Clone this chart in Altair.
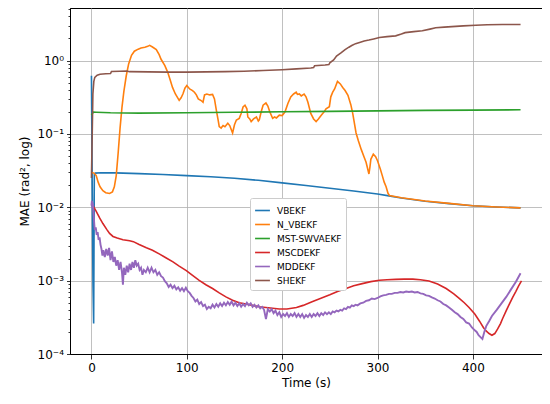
import altair as alt
import pandas as pd

SERIES = ["VBEKF", "N_VBEKF", "MST-SWVAEKF", "MSCDEKF", "MDDEKF", "SHEKF"]
COLORS = ["#1f77b4", "#ff7f0e", "#2ca02c", "#d62728", "#9467bd", "#8c564b"]

VBEKF_T = [0, 0.8, 1.6, 2.3, 3.0, 4, 10, 25, 50, 75, 100, 125, 150, 175, 200, 225, 250, 275, 300, 312, 325, 350, 375, 400, 425, 450]
VBEKF_V = [0.62, 0.02, 0.0009, 0.00026, 0.028, 0.0292, 0.0295, 0.0294, 0.0287, 0.0279, 0.027, 0.026, 0.0249, 0.0233, 0.0215, 0.0198, 0.0182, 0.0167, 0.0152, 0.0143, 0.0134, 0.0121, 0.0112, 0.0105, 0.0101, 0.0098]

N_VBEKF_T = [0, 3, 5, 7, 9, 12, 15, 19, 22, 24, 26, 28, 30, 32, 34, 36.5, 39, 42, 45, 49, 52, 56, 59, 61, 64, 68, 71, 73, 77, 80, 83, 85, 88, 92, 94, 96, 98, 100, 103, 106, 108, 110, 112, 115, 117, 118.6, 121, 124, 127, 129, 131, 133, 134, 136, 138, 140, 143, 145, 148, 150, 152, 155, 157, 159, 161, 163, 164, 166, 167.5, 170, 173, 175, 176, 178, 180, 183, 185, 187, 190, 192, 194, 197, 200, 203, 206, 209, 212, 214.7, 216, 218, 220, 223, 225, 227, 230, 233, 235.6, 238, 241, 244, 246, 249.5, 251, 253, 255, 258, 261, 263.5, 266, 269, 272, 274, 277.5, 280, 283, 286, 288, 291, 292, 293, 295.6, 298, 300, 303, 305, 307, 309, 311, 312.5, 325, 350, 375, 400, 425, 450]
N_VBEKF_V = [0.030, 0.029, 0.027, 0.022, 0.019, 0.0168, 0.0158, 0.0154, 0.0162, 0.019, 0.027, 0.055, 0.12, 0.23, 0.38, 0.62, 0.9, 1.18, 1.34, 1.43, 1.48, 1.52, 1.56, 1.61, 1.53, 1.41, 1.2, 1.04, 0.85, 0.69, 0.52, 0.43, 0.35, 0.287, 0.31, 0.353, 0.42, 0.456, 0.41, 0.39, 0.37, 0.34, 0.30, 0.285, 0.27, 0.34, 0.35, 0.34, 0.345, 0.3, 0.21, 0.15, 0.126, 0.12, 0.13, 0.125, 0.14, 0.13, 0.103, 0.133, 0.155, 0.163, 0.19, 0.233, 0.246, 0.22, 0.17, 0.16, 0.147, 0.16, 0.17, 0.15, 0.155, 0.2, 0.246, 0.264, 0.24, 0.2, 0.163, 0.17, 0.165, 0.18, 0.178, 0.2, 0.26, 0.32, 0.35, 0.37, 0.345, 0.35, 0.33, 0.35, 0.32, 0.27, 0.19, 0.16, 0.147, 0.16, 0.18, 0.2, 0.22, 0.235, 0.32, 0.37, 0.41, 0.52, 0.48, 0.43, 0.39, 0.335, 0.25, 0.19, 0.103, 0.08, 0.061, 0.048, 0.041, 0.0284, 0.035, 0.045, 0.053, 0.049, 0.043, 0.033, 0.027, 0.022, 0.019, 0.0155, 0.0145, 0.0135, 0.0122, 0.0113, 0.0105, 0.0101, 0.0098]

MST_T = [0, 1, 2, 5, 20, 50, 100, 150, 200, 250, 300, 350, 400, 450]
MST_V = [0.18, 0.19, 0.198, 0.197, 0.194, 0.192, 0.194, 0.197, 0.2, 0.203, 0.206, 0.209, 0.211, 0.213]

MSCDEKF_T = [0, 2, 5, 8.7, 12, 16, 19, 22.6, 27, 33, 40, 44, 50, 57.6, 64, 71.5, 78, 85.5, 92, 99.5, 106, 113, 120, 127, 134, 141, 148, 155, 162, 169, 176, 183, 190, 197, 205, 215, 222, 232, 240, 250, 258, 267, 275, 284, 293, 302, 310, 319, 328, 337, 345, 354, 363, 372, 380, 386, 391, 396, 402, 407, 411, 413.6, 417, 420, 423, 426, 429, 431, 435, 438, 442, 445, 448, 451]
MSCDEKF_V = [0.011, 0.0103, 0.0088, 0.0071, 0.006, 0.005, 0.0044, 0.004, 0.0038, 0.0036, 0.0035, 0.0034, 0.0031, 0.0028, 0.0026, 0.0023, 0.00205, 0.0018, 0.00158, 0.00137, 0.00118, 0.00101, 0.00088, 0.00078, 0.00068, 0.0006, 0.00054, 0.0005, 0.00048, 0.00046, 0.00044, 0.00043, 0.00042, 0.00041, 0.00041, 0.00043, 0.00046, 0.00052, 0.00057, 0.00064, 0.00071, 0.00078, 0.00085, 0.00091, 0.00097, 0.00101, 0.00103, 0.00104, 0.00105, 0.00105, 0.00103, 0.00099, 0.0009, 0.00078, 0.00066, 0.00057, 0.0005, 0.00043, 0.00035, 0.00028, 0.00023, 0.000208, 0.00019, 0.00018, 0.00019, 0.00022, 0.00026, 0.0003, 0.00039, 0.00047, 0.0006, 0.00071, 0.00085, 0.00099]

MDDEKF_T = [0, 0.5, 1, 1.5, 2, 2.5, 3, 3.5, 4.5, 5.5, 6.5, 7.5, 8.5, 9.5, 10.5, 11.5, 12.5, 14, 15.5, 17, 18.5, 20, 21.5, 23, 24.5, 26, 27.5, 29, 30.5, 32, 33, 34, 35.5, 37, 38.5, 40, 41.5, 43, 44.5, 46, 47.5, 49, 50.5, 52, 53.5, 55, 57, 59, 61, 63, 65, 67, 69, 71, 73, 75, 77, 79, 81, 83, 85, 87, 89, 91, 93, 95, 97, 99, 101, 103, 105, 107, 109, 111, 113, 115, 117, 119, 121, 123, 125, 127, 129, 131, 133, 135, 137, 139, 141, 143, 145, 147, 149, 151, 153, 155, 157, 159, 161, 163, 165, 167, 169, 171, 173, 175, 177, 179, 181, 183, 185, 187, 189, 191, 193, 195, 197, 199, 201, 203, 205, 207, 209, 211, 213, 215, 217, 219, 221, 223, 225, 227, 229, 231, 233, 235, 237, 239, 241, 243, 245, 247, 249, 251, 253, 255, 257, 259, 261, 263, 265, 267, 269, 271, 273, 275, 277, 279, 282, 285, 288, 291, 294, 297, 300, 303, 306, 309, 312, 315, 318, 321, 324, 327, 330, 333, 336, 339, 342, 345, 348, 351, 354, 357, 360, 363, 366, 369, 372, 375, 378, 381, 384, 387, 390, 393, 396, 399, 402, 404, 406, 408, 410, 412, 414, 417, 420, 425, 430, 435, 440, 445, 450]
MDDEKF_V = [0.0105, 0.0122, 0.0098, 0.0115, 0.0085, 0.0072, 0.0058, 0.0049, 0.0053, 0.0042, 0.0046, 0.0036, 0.0039, 0.0031, 0.0027, 0.0022, 0.0026, 0.0021, 0.0027, 0.0022, 0.0028, 0.0019, 0.0025, 0.0018, 0.0021, 0.0016, 0.0019, 0.0014, 0.0018, 0.0013, 0.00088, 0.0015, 0.0012, 0.0016, 0.0013, 0.0017, 0.0014, 0.0018, 0.0015, 0.0019, 0.0016, 0.0017, 0.0014, 0.0015, 0.0012, 0.0014, 0.0013, 0.0015, 0.0013, 0.0015, 0.0013, 0.0014, 0.0012, 0.0013, 0.00115, 0.0011, 0.00098, 0.00092, 0.00082, 0.00088, 0.00079, 0.00085, 0.00076, 0.00081, 0.00073, 0.00079, 0.00072, 0.0008, 0.00072, 0.00068, 0.00062, 0.00058, 0.00052, 0.00055, 0.00048, 0.00051, 0.00045, 0.00047, 0.00041, 0.00044, 0.00042, 0.00047, 0.00043, 0.00048, 0.00044, 0.00049, 0.00045, 0.0005, 0.00046, 0.00051, 0.00047, 0.00052, 0.00046, 0.0005, 0.00045, 0.00049, 0.00044, 0.00048, 0.00045, 0.0005, 0.00046, 0.00049, 0.00044, 0.00047, 0.00043, 0.00046, 0.00042, 0.00044, 0.0004, 0.0003, 0.00041, 0.00038, 0.00041, 0.00036, 0.00039, 0.00034, 0.00037, 0.00032, 0.00035, 0.00033, 0.00036, 0.00032, 0.00035, 0.00033, 0.00036, 0.00032, 0.00035, 0.00032, 0.00035, 0.00031, 0.00034, 0.00032, 0.00035, 0.00032, 0.00035, 0.00033, 0.00036, 0.00033, 0.00036, 0.00034, 0.00037, 0.00035, 0.00037, 0.00035, 0.00038, 0.00037, 0.00039, 0.00038, 0.0004, 0.00039, 0.00042, 0.00041, 0.00044, 0.00043, 0.00046, 0.00045, 0.00047, 0.00046, 0.00049, 0.0005, 0.00053, 0.00054, 0.00057, 0.00056, 0.00058, 0.00061, 0.00063, 0.00064, 0.00066, 0.00066, 0.00068, 0.00068, 0.0007, 0.00069, 0.00071, 0.0007, 0.00071, 0.00069, 0.0007, 0.00067, 0.00066, 0.00063, 0.00062, 0.00059, 0.00057, 0.00054, 0.00052, 0.00048, 0.00046, 0.00043, 0.0004, 0.00037, 0.00035, 0.00032, 0.0003, 0.00027, 0.00026, 0.00023, 0.00021, 0.0002, 0.00018, 0.00017, 0.00016, 0.0002, 0.00024, 0.00028, 0.00033, 0.0004, 0.00049, 0.0006, 0.00076, 0.00096, 0.00126]

SHEKF_T = [0, 0.8, 1.5, 2.5, 3.5, 6, 9, 15, 20, 21, 30, 37, 40, 60, 80, 100, 120, 140, 160, 180, 200, 215, 230, 233, 234, 245, 249, 250, 254, 257, 262, 266, 270, 273, 277, 282, 286, 291, 296, 302, 310, 319, 325, 329, 338, 347, 355, 361, 370, 378, 390, 403, 415, 431, 450]
SHEKF_V = [0.025, 0.1, 0.35, 0.52, 0.59, 0.63, 0.65, 0.66, 0.665, 0.71, 0.715, 0.72, 0.705, 0.70, 0.695, 0.695, 0.70, 0.705, 0.715, 0.73, 0.75, 0.77, 0.79, 0.80, 0.85, 0.87, 0.88, 0.93, 1.02, 1.15, 1.28, 1.41, 1.52, 1.6, 1.7, 1.78, 1.85, 1.9, 1.97, 2.06, 2.12, 2.17, 2.3, 2.4, 2.48, 2.54, 2.68, 2.8, 2.85, 2.9, 2.97, 3.03, 3.07, 3.1, 3.1]

X_TICKS = [0, 100, 200, 300, 400]
Y_TICKS = [1e-4, 1e-3, 1e-2, 1e-1, 1]
Y_TICK_LABELS = ["10⁻⁴", "10⁻³", "10⁻²", "10⁻¹", "10⁰"]
Y_MINOR = [m * 10.0 ** e for e in (-4, -3, -2, -1) for m in range(2, 10)] + [2.0, 3.0, 4.0, 5.0]

series_data = [
    (VBEKF_T, VBEKF_V), (N_VBEKF_T, N_VBEKF_V), (MST_T, MST_V),
    (MSCDEKF_T, MSCDEKF_V), (MDDEKF_T, MDDEKF_V), (SHEKF_T, SHEKF_V),
]
rows = []
for name, (ts, vs) in zip(SERIES, series_data):
    for t, v in zip(ts, vs):
        rows.append({"series": name, "t": t, "v": v})
df = pd.DataFrame(rows)

major_test = " || ".join(f"abs(datum.value - {v}) < {v * 1e-6}" for v in Y_TICKS)
label_expr = ""
for v, lab in zip(Y_TICKS, Y_TICK_LABELS):
    label_expr += f"abs(datum.value - {v}) < {v * 1e-6} ? '{lab}' : "
label_expr += "''"

FONT = "DejaVu Sans"

x_enc = alt.X("t:Q", scale=alt.Scale(domain=[-22.5, 472.5], nice=False, zero=False),
              axis=alt.Axis(values=X_TICKS, title="Time (s)", grid=True, format="d"))
y_enc = alt.Y("v:Q", scale=alt.Scale(type="log", domain=[1e-4, 5.2], nice=False),
              axis=alt.Axis(values=Y_TICKS + Y_MINOR, title="MAE (rad², log)",
                            labelExpr=label_expr, labelOverlap=False, labelFlush=False,
                            tickSize={"condition": {"test": major_test, "value": 3.5}, "value": 2},
                            gridOpacity={"condition": {"test": major_test, "value": 1}, "value": 0}))
color_enc = alt.Color("series:N", scale=alt.Scale(domain=SERIES, range=COLORS),
                      legend=alt.Legend(orient="none", legendX=180, legendY=190, title=None,
                                        symbolType="stroke", symbolStrokeWidth=1.6, symbolSize=220,
                                        labelFontSize=9, labelFont=FONT, labelColor="black",
                                        fillColor="white", strokeColor="#cccccc", padding=4,
                                        cornerRadius=2, rowPadding=0, labelOffset=6))

layers = []
for s in SERIES:
    sw = 1.9 if s == "MDDEKF" else 1.6
    layers.append(
        alt.Chart(df).transform_filter(alt.datum.series == s)
        .mark_line(strokeWidth=sw, clip=True)
        .encode(x=x_enc, y=y_enc, color=color_enc)
    )

chart = alt.layer(*layers).properties(
    width=472, height=346,
    autosize=alt.AutoSizeParams(type="none"),
    padding={"left": 62, "top": 0, "right": 0, "bottom": 36},
).configure_view(stroke="black", strokeWidth=1).configure_axis(
    labelFont=FONT, titleFont=FONT, labelFontSize=12, titleFontSize=12,
    labelColor="black", titleColor="black", tickColor="black", domainColor="black",
    titleFontWeight="normal", gridColor="#b0b0b0", gridWidth=0.8, tickWidth=0.8,
    domainWidth=1, labelPadding=3,
).configure_axisX(titlePadding=4).configure_axisY(titlePadding=6)

chart.save("out.html", embed_options={"renderer": "svg", "actions": False})
